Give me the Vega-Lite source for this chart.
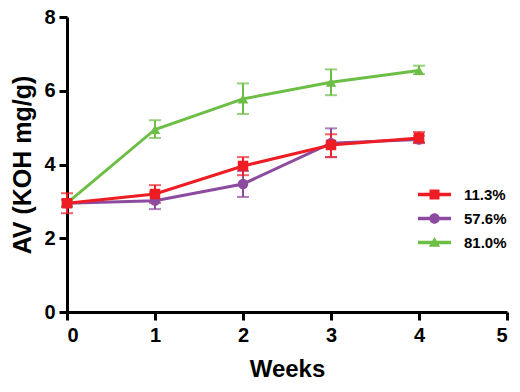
{
  "$schema": "https://vega.github.io/schema/vega-lite/v6.json",
  "width": 440,
  "height": 295,
  "autosize": {"type": "none"},
  "padding": {"left": 67, "top": 17, "right": 13, "bottom": 80},
  "background": "white",
  "config": {
    "view": {"stroke": null},
    "font": "Liberation Sans",
    "axis": {
      "grid": false,
      "domainColor": "black",
      "domainWidth": 3,
      "tickColor": "black",
      "tickWidth": 3,
      "tickSize": 8,
      "labelColor": "black",
      "labelFont": "Liberation Sans",
      "labelFontSize": 20,
      "labelFontWeight": "bold",
      "titleColor": "black",
      "titleFont": "Liberation Sans",
      "titleFontWeight": "bold"
    }
  },
  "data": {
    "values": [
      {"series": "81.0%", "week": 0, "av": 2.95, "lo": 2.88, "hi": 3.02},
      {"series": "81.0%", "week": 1, "av": 4.95, "lo": 4.72, "hi": 5.2},
      {"series": "81.0%", "week": 2, "av": 5.78, "lo": 5.37, "hi": 6.2},
      {"series": "81.0%", "week": 3, "av": 6.23, "lo": 5.88, "hi": 6.58},
      {"series": "81.0%", "week": 4, "av": 6.55, "lo": 6.45, "hi": 6.68},
      {"series": "57.6%", "week": 0, "av": 2.95, "lo": 2.85, "hi": 3.05},
      {"series": "57.6%", "week": 1, "av": 3.02, "lo": 2.79, "hi": 3.25},
      {"series": "57.6%", "week": 2, "av": 3.47, "lo": 3.12, "hi": 3.82},
      {"series": "57.6%", "week": 3, "av": 4.58, "lo": 4.2, "hi": 4.98},
      {"series": "57.6%", "week": 4, "av": 4.68, "lo": 4.6, "hi": 4.78},
      {"series": "11.3%", "week": 0, "av": 2.95, "lo": 2.68, "hi": 3.22},
      {"series": "11.3%", "week": 1, "av": 3.2, "lo": 2.96, "hi": 3.44},
      {"series": "11.3%", "week": 2, "av": 3.96, "lo": 3.71, "hi": 4.2},
      {"series": "11.3%", "week": 3, "av": 4.53, "lo": 4.2, "hi": 4.82},
      {"series": "11.3%", "week": 4, "av": 4.72, "lo": 4.58, "hi": 4.88}
    ]
  },
  "encoding": {
    "x": {
      "field": "week", "type": "quantitative",
      "scale": {"domain": [0, 5], "nice": false, "zero": false},
      "axis": {"values": [0, 1, 2, 3, 4, 5], "title": "Weeks", "titleFontSize": 24, "labelPadding": 5, "titlePadding": 12, "format": "d"}
    },
    "color": {
      "field": "series", "type": "nominal",
      "scale": {"domain": ["11.3%", "57.6%", "81.0%"], "range": ["#EE1D23", "#8D4B9F", "#6CBE45"]},
      "legend": {
        "title": null,
        "orient": "none",
        "legendX": 348,
        "legendY": 170,
        "padding": 0,
        "symbolSize": 100,
        "symbolOffset": 12,
        "labelOffset": 22,
        "rowPadding": 8,
        "labelFont": "Liberation Sans",
        "labelFontSize": 15,
        "labelFontWeight": "bold",
        "labelColor": "black",
        "symbolOpacity": 1,
        "symbolStrokeWidth": 0,
        "encode": {
          "symbols": {
            "update": {
              "shape": {"signal": "datum.value === '11.3%' ? 'M-3.3,-0.33H3.3V0.33H-3.3Z M-1,-1H1V1H-1Z' : datum.value === '57.6%' ? 'M-3.3,-0.33H3.3V0.33H-3.3Z M-1.05,0A1.05,1.05 0 1,1 1.05,0A1.05,1.05 0 1,1 -1.05,0Z' : 'M-3.3,-0.33H3.3V0.33H-3.3Z M0,-1.1L1.15,0.85H-1.15Z'"}
            }
          }
        }
      }
    }
  },
  "layer": [
    {
      "mark": {"type": "rule", "strokeWidth": 2},
      "encoding": {
        "y": {"field": "lo", "type": "quantitative"},
        "y2": {"field": "hi"}
      }
    },
    {
      "mark": {"type": "tick", "orient": "horizontal", "size": 12, "thickness": 2},
      "encoding": {
        "y": {"field": "lo", "type": "quantitative"}
      }
    },
    {
      "mark": {"type": "tick", "orient": "horizontal", "size": 12, "thickness": 2},
      "encoding": {
        "y": {"field": "hi", "type": "quantitative"}
      }
    },
    {
      "mark": {"type": "line", "strokeWidth": 3},
      "encoding": {
        "y": {
          "field": "av", "type": "quantitative",
          "scale": {"domain": [0, 8], "nice": false},
          "axis": {"values": [0, 2, 4, 6, 8], "title": "AV (KOH mg/g)", "titleFontSize": 25, "labelPadding": 4, "titlePadding": 8}
        }
      }
    },
    {
      "mark": {"type": "point", "filled": true, "opacity": 1, "size": 110},
      "encoding": {
        "y": {"field": "av", "type": "quantitative"},
        "shape": {
          "condition": [
            {"test": "datum.series === '11.3%'", "value": "square"},
            {"test": "datum.series === '57.6%'", "value": "circle"}
          ],
          "value": "triangle-up"
        }
      }
    }
  ]
}
